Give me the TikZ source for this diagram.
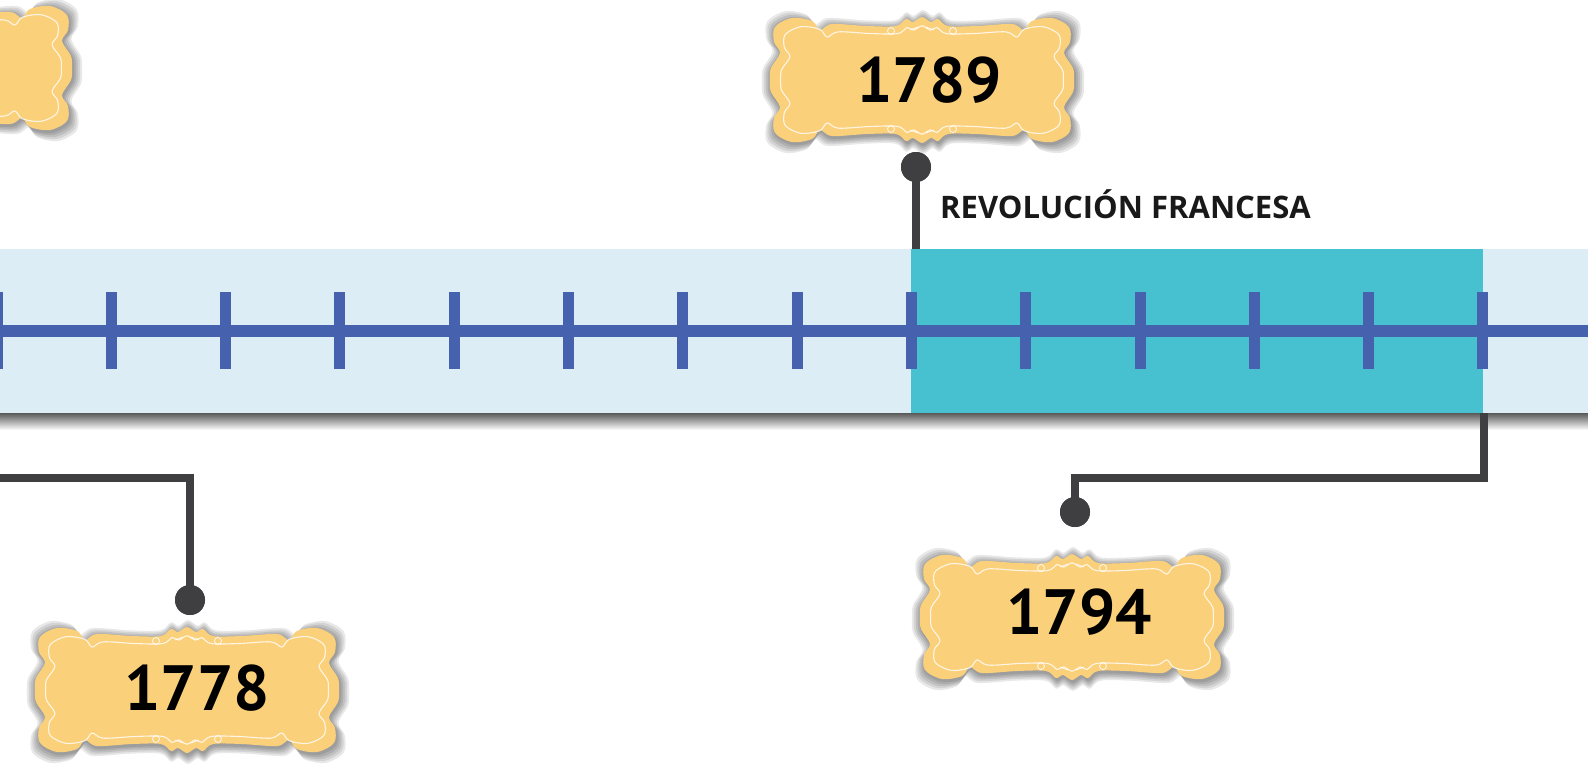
\documentclass[tikz,border=0pt]{standalone}
\usepackage{fontspec}
\setmainfont{PT Sans}
\newfontfamily\lblfont{Open Sans}
\definecolor{bandbg}{HTML}{DDEDF6}
\definecolor{teal}{HTML}{47C0CF}
\definecolor{axisblue}{HTML}{4661AD}
\definecolor{conn}{HTML}{3F3F41}
\definecolor{cartfill}{HTML}{FBD07A}
\newcommand\cartshape[1]{\path[#1] plot[smooth cycle,tension=0.55] coordinates {
(0,-63) (9,-58) (16,-61) (26,-54) (55,-54) (90,-56) (102,-50) (110,-59) (130,-62) (147,-53) (148,-38) (142,-27) (151,-12) (152,0) (151,12) (142,27) (148,38) (147,53) (130,62) (110,59) (102,50) (90,56) (55,54) (26,54) (16,61) (9,58) (0,63) (-9,58) (-16,61) (-26,54) (-55,54) (-90,56) (-102,50) (-110,59) (-130,62) (-147,53) (-148,38) (-142,27) (-151,12) (-152,0) (-151,-12) (-142,-27) (-148,-38) (-147,-53) (-130,-62) (-110,-59) (-102,-50) (-90,-56) (-55,-54) (-26,-54) (-16,-61) (-9,-58)};}
\tikzset{
  cart/.pic={
    \foreach \d in {9,7,5,3,1}{
      \cartshape{fill=black,opacity=0.09,shift={(1,2)},xscale={1+\d/151},yscale={1+\d/63}}}
    \cartshape{fill=cartfill}
    \cartshape{draw=white,line width=1.1pt,opacity=0.8,xscale=0.93,yscale=0.86}
    \foreach \sx in {-1,1}{\foreach \sy in {-1,1}{
      \draw[white,line width=0.9pt,opacity=0.8] (\sx*31,\sy*49) circle (3.5);
      \draw[white,line width=0.9pt,opacity=0.8] (\sx*12,\sy*50) -- (\sx*4,\sy*53);}}
  },
  year/.style={font=\fontsize{64}{64}\selectfont\bfseries,text=black,inner sep=0},
  lbl/.style={font=\lblfont\fontsize{31}{31}\selectfont\bfseries,text=black!90,inner sep=0,anchor=west},
  connline/.style={draw=conn,line width=8pt},
  dot/.style={circle,fill=conn,minimum size=30pt,inner sep=0}
}
\begin{document}
\begin{tikzpicture}[x=1pt,y=-1pt]
\useasboundingbox (0,0) rectangle (1588,764);
\fill[white] (0,0) rectangle (1588,764);
% band
\fill[top color=black!65,bottom color=white] (0,413) rectangle (1588,430);
\fill[bandbg] (0,249) rectangle (1588,413);
\fill[teal] (911,249) rectangle (1483,413);
\draw[axisblue,line width=12pt] (-10,330.5) -- (1600,330.5);
\foreach \k in {0,...,13}{\fill[axisblue] (-3+114.3*\k-5.5,292) rectangle (-3+114.3*\k+5.5,369);}
% connectors
\coordinate (b1789) at (916,249);
\coordinate (b1794) at (1484,413);
\coordinate (b1778) at (-20,478);
\node[dot] (d1789) at (916,167) {};
\node[dot] (d1794) at (1075,512) {};
\node[dot] (d1778) at (190,600) {};
\draw[connline] (d1789.center) -- (b1789);
\draw[connline] (d1794.center) |- (1484,478) -- (b1794);
\draw[connline] (b1778) -| (d1778.center);
\node[dot] at (916,167) {};
\node[dot] at (1075,512) {};
\node[dot] at (190,600) {};
% cartouches
\pic at (-80,68) {cart};
\pic at (922,80) {cart};
\pic at (187,690) {cart};
\pic at (1072,617) {cart};
\node[year] (y1789) at (929,80) {1789};
\node[year] (y1778) at (197,688) {1778};
\node[year] (y1794) at (1079,612) {1794};
\node[lbl] (rev) at (940,204) {REVOLUCIÓN FRANCESA};
\end{tikzpicture}
\end{document}
